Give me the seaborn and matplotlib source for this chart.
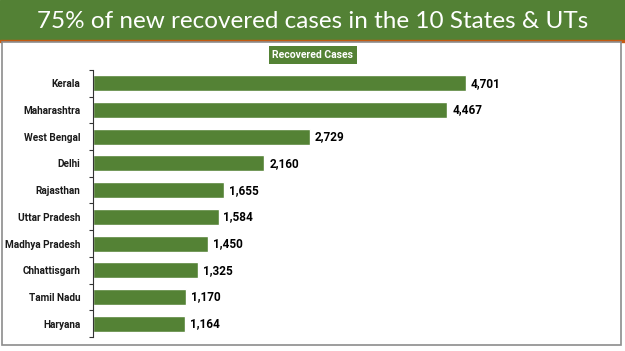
import numpy as np
import pandas as pd
import matplotlib
matplotlib.use('Agg')
import matplotlib.pyplot as plt
import seaborn as sns
from matplotlib.patches import Rectangle

states = ['Kerala', 'Maharashtra', 'West Bengal', 'Delhi', 'Rajasthan',
          'Uttar Pradesh', 'Madhya Pradesh', 'Chhattisgarh', 'Tamil Nadu', 'Haryana']
recovered = [4701, 4467, 2729, 2160, 1655, 1584, 1450, 1325, 1170, 1164]

title = '75% of new recovered cases in the 10 States & UTs'
legend_label = 'Recovered Cases'

GREEN = '#548235'
BANNER = '#538135'
NARROW = ['Roboto', 'DejaVu Sans']

df = pd.DataFrame({'state': states, 'recovered': recovered})

sns.set_style('white')
plt.rcParams['font.family'] = ['Open Sans', 'DejaVu Sans']

W, H = 625, 351
fig = plt.figure(figsize=(W / 100, H / 100), dpi=100)

# banner + framed panel
fig.patches.append(Rectangle((0, 1 - 40 / H), 1, 40 / H, transform=fig.transFigure,
                             color=BANNER, zorder=-5))
fig.patches.append(Rectangle((0, 1 - 42 / H), 1, 2 / H, transform=fig.transFigure,
                             color='#c55a11', zorder=-5))
fig.patches.append(Rectangle((2 / W, 6 / H), 619 / W, (H - 48) / H,
                             transform=fig.transFigure, facecolor='white',
                             edgecolor='#8c8c8c', linewidth=1.2, zorder=-5))
fig.text(0.5, 1 - 22 / H, title, color='white', fontsize=17.5,
         family=['Lato', 'DejaVu Sans'], ha='center', va='center')

# axes: left spine at x=93px, rows from y=70 to 337px
x0, x1 = 93, 593
y_top, y_bot = 70, 337
ax = fig.add_axes([x0 / W, 1 - y_bot / H, (x1 - x0) / W, (y_bot - y_top) / H])
ax.set_zorder(5)
ax.patch.set_alpha(0)

sns.barplot(data=df, y='state', x='recovered', orient='h', color=GREEN,
            saturation=1, width=0.6, ax=ax)
ax.set_xlim(0, 4701 * (x1 - x0) / 373)
ax.set_ylim(len(states) - 0.5, -0.5)

for i, v in enumerate(recovered):
    ax.text(v + 60, i, f'{v:,}', va='center', ha='left', fontsize=8.5,
            fontweight='bold', color='black', family=NARROW)

ax.set_xlabel('')
ax.set_ylabel('')
ax.set_xticks([])
ax.set_yticks(range(len(states)))
ax.set_yticklabels(states, fontsize=7.2, fontweight='bold', color='#1a1a1a',
                   family=NARROW)
ax.set_yticks(np.arange(-0.5, len(states)), minor=True)
ax.tick_params(axis='y', which='major', length=0, pad=9)
ax.tick_params(axis='y', which='minor', length=3, width=0.8, color='#333333', left=True)
for s in ['top', 'right', 'bottom']:
    ax.spines[s].set_visible(False)
ax.spines['left'].set_color('#333333')
ax.spines['left'].set_linewidth(0.8)

# legend box
fig.text(313 / W, 1 - 55 / H, legend_label, color='white', fontsize=7.5,
         fontweight='bold', ha='center', va='center', family=NARROW,
         bbox=dict(boxstyle='square,pad=0.35', facecolor=GREEN, edgecolor='none'))

fig.savefig('out.png', dpi=100)
